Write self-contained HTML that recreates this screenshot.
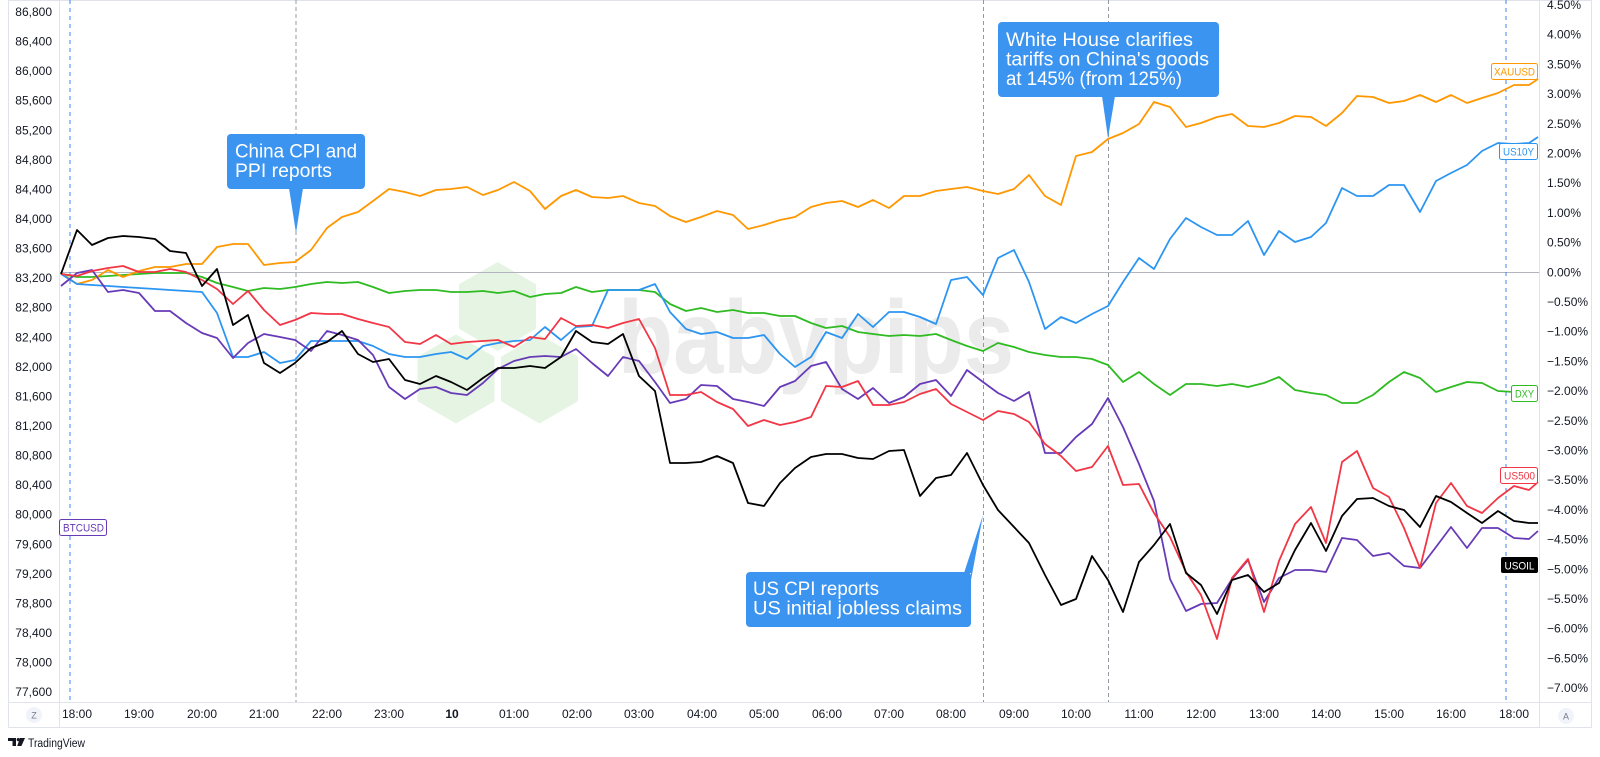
<!DOCTYPE html>
<html><head><meta charset="utf-8"><style>
html,body{margin:0;padding:0;background:#fff;}
svg{display:block;}
text{font-family:"Liberation Sans",Arial,sans-serif;}
</style></head><body>
<svg width="1600" height="757" viewBox="0 0 1600 757" xmlns="http://www.w3.org/2000/svg">
<rect x="0" y="0" width="1600" height="757" fill="#fff"/>
<!-- frame -->
<rect x="8.5" y="0.5" width="1583" height="727" fill="none" stroke="#e0e3eb" stroke-width="1"/>
<line x1="59.5" y1="0" x2="59.5" y2="728" stroke="#e0e3eb"/>
<line x1="1539.5" y1="0" x2="1539.5" y2="728" stroke="#e0e3eb"/>
<line x1="8" y1="702.5" x2="1592" y2="702.5" stroke="#e0e3eb"/>

<!-- watermark -->
<g fill="#e6f5e3">
<polygon points="497.5,262 536,284.3 536,328.8 497.5,351 459,328.8 459,284.3"/>
<polygon points="456,334.5 494.5,356.8 494.5,401.3 456,423.5 417.5,401.3 417.5,356.8"/>
<polygon points="539.5,334.5 578,356.8 578,401.3 539.5,423.5 501,401.3 501,356.8"/>
</g>
<text x="618" y="373" font-size="104" font-weight="bold" fill="#ebebeb" textLength="396" lengthAdjust="spacingAndGlyphs">babypips</text>

<!-- zero line -->
<line x1="60" y1="272.5" x2="1539" y2="272.5" stroke="#b2b5be" stroke-width="1"/>

<!-- vertical dashed lines -->
<g stroke-width="1" fill="none">
<line x1="70" y1="0" x2="70" y2="702" stroke="#3f84ee" stroke-dasharray="4,4"/>
<line x1="1506" y1="0" x2="1506" y2="702" stroke="#3f84ee" stroke-dasharray="4,4"/>
<line x1="296" y1="0" x2="296" y2="702" stroke="#9598a1" stroke-dasharray="4,3"/>
<line x1="983.5" y1="0" x2="983.5" y2="702" stroke="#9598a1" stroke-dasharray="4,3"/>
<line x1="1108.5" y1="0" x2="1108.5" y2="702" stroke="#9598a1" stroke-dasharray="4,3"/>
</g>

<defs><clipPath id="pc"><rect x="60" y="0" width="1479" height="702"/></clipPath></defs>
<g clip-path="url(#pc)" fill="none" stroke-width="1.8" stroke-linejoin="round">
<!-- DXY -->
<polyline stroke="#2fbb22" points="61,274 77,277 92,277 108,276 123,275 139,274 155,273 170,273 186,273 202,277 217,283 233,287 248,291 264,288 280,289 295,287 311,284 327,282 342,283 358,282 373,287 389,293 405,291 420,290 436,290 451,292 467,292 483,291 498,293 514,291 530,297 545,294 561,293 576,287 592,292 608,290 623,290 639,290 655,292 670,304 686,311 701,308 717,312 733,310 748,313 764,313 780,316 795,316 811,323 826,328 842,326 858,332 873,334 889,336 904,335 920,336 936,334 951,340 967,346 983,351 998,343 1014,347 1029,352 1045,355 1061,357 1076,357 1092,359 1108,365 1123,382 1139,372 1154,384 1170,395 1186,384 1201,384 1217,386 1232,384 1248,387 1264,383 1279,377 1295,390 1311,393 1326,395 1342,403 1357,403 1373,395 1389,382 1404,372 1420,378 1436,392 1451,387 1467,382 1482,383 1498,391 1514,392 1529,392"/>
<!-- XAUUSD -->
<polyline stroke="#ff9800" points="61,273 77,284 92,280 108,270 123,277 139,271 155,267 170,267 186,264 202,264 217,247 233,244 248,244 264,265 280,263 295,262 311,250 327,228 342,217 358,212 373,201 389,189 405,192 420,196 436,190 451,189 467,187 483,195 498,190 514,182 530,191 545,209 561,196 576,190 592,197 608,198 623,196 639,203 655,206 670,216 686,222 701,217 717,211 733,215 748,229 764,225 780,220 795,217 811,207 826,203 842,201 858,207 873,200 889,208 904,196 920,196 936,191 951,189 967,187 983,191 998,194 1014,189 1029,175 1045,196 1061,205 1076,156 1092,152 1108,139 1123,133 1139,124 1154,102 1170,107 1186,127 1201,123 1217,117 1232,114 1248,126 1264,127 1279,123 1295,116 1311,117 1326,126 1342,113 1357,96 1373,97 1389,103 1404,101 1420,95 1436,102 1451,95 1467,103 1482,98 1498,93 1514,85 1529,85 1538,79"/>
<!-- US10Y -->
<polyline stroke="#2c95f2" points="61,274 77,284 92,285 108,286 123,287 139,288 155,289 170,290 186,291 202,292 217,313 233,357 248,357 264,352 280,363 295,360 311,341 327,341 342,341 358,341 373,346 389,354 405,357 420,357 436,354 451,352 467,359 483,346 498,343 514,341 530,340 545,327 561,340 576,327 592,326 608,290 623,290 639,290 655,284 670,312 686,329 701,334 717,332 733,338 748,338 764,335 780,354 795,367 811,357 826,332 842,338 858,314 873,327 889,312 904,312 920,317 936,324 951,280 967,277 983,295 998,258 1014,250 1029,282 1045,329 1061,317 1076,323 1092,314 1108,306 1123,282 1139,258 1154,269 1170,239 1186,218 1201,227 1217,235 1232,235 1248,221 1264,255 1279,231 1295,242 1311,237 1326,223 1342,188 1357,196 1373,196 1389,185 1404,185 1420,212 1436,181 1451,173 1467,165 1482,151 1498,143 1514,144 1529,143 1538,137"/>
<!-- BTCUSD -->
<polyline stroke="#673ab7" points="61,286 77,273 92,270 108,292 123,290 139,293 155,311 170,311 186,323 202,333 217,338 233,358 248,343 264,334 280,337 295,340 311,351 327,331 342,335 358,340 373,355 389,387 405,399 420,389 436,387 451,393 467,395 483,383 498,369 514,361 530,357 545,356 561,357 576,349 592,363 608,376 623,357 639,361 655,382 670,403 686,399 701,385 717,386 733,399 748,402 764,406 780,387 795,381 811,366 826,362 842,389 858,399 873,388 889,403 904,397 920,384 936,380 951,396 967,370 983,382 998,393 1014,401 1029,392 1045,453 1061,453 1076,437 1092,424 1108,398 1123,427 1139,464 1154,501 1170,579 1186,611 1201,604 1217,603 1232,579 1248,560 1264,602 1279,578 1295,570 1311,570 1326,572 1342,538 1357,540 1373,556 1389,553 1404,566 1420,568 1436,547 1451,527 1467,548 1482,528 1498,528 1514,538 1529,539 1538,531"/>
<!-- US500 -->
<polyline stroke="#f23645" points="61,274 77,276 92,271 108,268 123,266 139,272 155,272 170,269 186,272 202,280 217,289 233,304 248,291 264,310 280,325 295,320 311,313 327,314 342,314 358,319 373,323 389,327 405,342 420,344 436,335 451,344 467,342 483,341 498,340 514,347 530,337 545,339 561,318 576,326 592,325 608,328 623,323 639,319 655,348 670,395 686,395 701,392 717,402 733,409 748,426 764,420 780,425 795,422 811,417 826,386 842,387 858,381 873,405 889,405 904,402 920,394 936,389 951,404 967,412 983,420 998,411 1014,414 1029,422 1045,444 1061,456 1076,471 1092,467 1108,446 1123,485 1139,484 1154,513 1170,537 1186,572 1201,595 1217,639 1232,578 1248,559 1264,612 1279,561 1295,524 1311,507 1326,543 1342,462 1357,451 1373,488 1389,497 1404,528 1420,568 1436,503 1451,483 1467,506 1482,513 1498,498 1514,486 1529,490 1538,482"/>
<!-- USOIL -->
<polyline stroke="#000000" points="61,274 77,230 92,245 108,238 123,236 139,237 155,239 170,251 186,253 202,286 217,269 233,325 248,315 264,363 280,373 295,363 311,348 327,342 342,331 358,354 373,362 389,359 405,380 420,384 436,376 451,382 467,390 483,378 498,368 514,368 530,366 545,368 561,357 576,331 592,342 608,344 623,334 639,376 655,391 670,463 686,463 701,462 717,456 733,463 748,503 764,506 780,483 795,468 811,457 826,454 842,454 858,458 873,459 889,451 904,450 920,496 936,478 951,475 967,453 983,485 998,510 1014,527 1029,543 1045,575 1061,605 1076,599 1092,556 1108,580 1123,612 1139,562 1154,545 1170,524 1186,573 1201,585 1217,614 1232,580 1248,575 1264,592 1279,583 1295,550 1311,523 1326,551 1342,516 1357,499 1373,498 1389,506 1404,510 1420,527 1436,496 1451,502 1467,513 1482,523 1498,511 1514,521 1529,523 1538,523"/>
</g>

<!-- series labels -->
<g font-size="11">
<rect x="1491.5" y="63.5" width="46" height="16" rx="2" fill="#fff" stroke="#ff9800"/>
<text x="1494" y="75.5" fill="#ff9800" textLength="41" lengthAdjust="spacingAndGlyphs">XAUUSD</text>
<rect x="1499.5" y="143.5" width="38" height="16" rx="2" fill="#fff" stroke="#2c95f2"/>
<text x="1503" y="155.5" fill="#2c95f2" textLength="31" lengthAdjust="spacingAndGlyphs">US10Y</text>
<rect x="1511.5" y="385.5" width="26" height="16" rx="2" fill="#fff" stroke="#2fbb22"/>
<text x="1515" y="397.5" fill="#2fbb22" textLength="19" lengthAdjust="spacingAndGlyphs">DXY</text>
<rect x="1500.5" y="467.5" width="37" height="16" rx="2" fill="#fff" stroke="#f23645"/>
<text x="1504" y="479.5" fill="#f23645" textLength="31" lengthAdjust="spacingAndGlyphs">US500</text>
<rect x="1501" y="557" width="37" height="16" rx="2" fill="#000"/>
<text x="1504.5" y="569.5" fill="#fff" textLength="30" lengthAdjust="spacingAndGlyphs">USOIL</text>
<rect x="59.5" y="519.5" width="47" height="16" rx="2" fill="#fff" stroke="#673ab7"/>
<text x="63" y="531.5" fill="#673ab7" textLength="41" lengthAdjust="spacingAndGlyphs">BTCUSD</text>
</g>

<!-- left axis labels -->
<g font-size="12" fill="#131722" text-anchor="end">
<text x="52" y="16">86,800</text>
<text x="52" y="45.6">86,400</text>
<text x="52" y="75.1">86,000</text>
<text x="52" y="104.7">85,600</text>
<text x="52" y="134.3">85,200</text>
<text x="52" y="163.8">84,800</text>
<text x="52" y="193.4">84,400</text>
<text x="52" y="223">84,000</text>
<text x="52" y="252.6">83,600</text>
<text x="52" y="282.1">83,200</text>
<text x="52" y="311.7">82,800</text>
<text x="52" y="341.3">82,400</text>
<text x="52" y="370.8">82,000</text>
<text x="52" y="400.4">81,600</text>
<text x="52" y="430">81,200</text>
<text x="52" y="459.6">80,800</text>
<text x="52" y="489.1">80,400</text>
<text x="52" y="518.7">80,000</text>
<text x="52" y="548.3">79,600</text>
<text x="52" y="577.8">79,200</text>
<text x="52" y="607.4">78,800</text>
<text x="52" y="637">78,400</text>
<text x="52" y="666.5">78,000</text>
<text x="52" y="696.1">77,600</text>
</g>

<!-- right axis labels -->
<g font-size="12" fill="#131722">
<text x="1547" y="9">4.50%</text>
<text x="1547" y="38.7">4.00%</text>
<text x="1547" y="68.4">3.50%</text>
<text x="1547" y="98.1">3.00%</text>
<text x="1547" y="127.8">2.50%</text>
<text x="1547" y="157.5">2.00%</text>
<text x="1547" y="187.2">1.50%</text>
<text x="1547" y="216.9">1.00%</text>
<text x="1547" y="246.6">0.50%</text>
<text x="1547" y="276.3">0.00%</text>
<text x="1547" y="306">−0.50%</text>
<text x="1547" y="335.7">−1.00%</text>
<text x="1547" y="365.4">−1.50%</text>
<text x="1547" y="395.1">−2.00%</text>
<text x="1547" y="424.8">−2.50%</text>
<text x="1547" y="454.5">−3.00%</text>
<text x="1547" y="484.2">−3.50%</text>
<text x="1547" y="513.9">−4.00%</text>
<text x="1547" y="543.6">−4.50%</text>
<text x="1547" y="573.3">−5.00%</text>
<text x="1547" y="603">−5.50%</text>
<text x="1547" y="632.7">−6.00%</text>
<text x="1547" y="662.4">−6.50%</text>
<text x="1547" y="692.1">−7.00%</text>
</g>

<!-- time axis -->
<g font-size="12" fill="#131722" text-anchor="middle">
<text x="77" y="718">18:00</text>
<text x="139" y="718">19:00</text>
<text x="202" y="718">20:00</text>
<text x="264" y="718">21:00</text>
<text x="327" y="718">22:00</text>
<text x="389" y="718">23:00</text>
<text x="452" y="718" font-weight="bold">10</text>
<text x="514" y="718">01:00</text>
<text x="577" y="718">02:00</text>
<text x="639" y="718">03:00</text>
<text x="702" y="718">04:00</text>
<text x="764" y="718">05:00</text>
<text x="827" y="718">06:00</text>
<text x="889" y="718">07:00</text>
<text x="951" y="718">08:00</text>
<text x="1014" y="718">09:00</text>
<text x="1076" y="718">10:00</text>
<text x="1139" y="718">11:00</text>
<text x="1201" y="718">12:00</text>
<text x="1264" y="718">13:00</text>
<text x="1326" y="718">14:00</text>
<text x="1389" y="718">15:00</text>
<text x="1451" y="718">16:00</text>
<text x="1514" y="718">18:00</text>
</g>
<circle cx="34" cy="715" r="8" fill="#f0f3fa"/>
<text x="34" y="718.5" font-size="9" fill="#787b86" text-anchor="middle">Z</text>
<circle cx="1566" cy="716" r="8" fill="#f0f3fa"/>
<text x="1566" y="719.5" font-size="9" fill="#787b86" text-anchor="middle">A</text>

<!-- callouts -->
<g fill="#3b94f0">
<rect x="227" y="134" width="138" height="55" rx="4"/>
<polygon points="289,188 303,188 296,233"/>
<rect x="998" y="22" width="221" height="75" rx="4"/>
<polygon points="1102,96 1115,96 1108,138"/>
<rect x="746" y="572" width="225" height="55" rx="4"/>
<polygon points="964,573 971,573 971,580 983,515"/>
</g>
<g fill="#ffffff" font-size="19">
<text x="235" y="157.5" textLength="122" lengthAdjust="spacingAndGlyphs">China CPI and</text>
<text x="235" y="177" textLength="97" lengthAdjust="spacingAndGlyphs">PPI reports</text>
<text x="1006" y="46" textLength="187" lengthAdjust="spacingAndGlyphs">White House clarifies</text>
<text x="1006" y="65.5" textLength="203" lengthAdjust="spacingAndGlyphs">tariffs on China's goods</text>
<text x="1006" y="85" textLength="176" lengthAdjust="spacingAndGlyphs">at 145% (from 125%)</text>
<text x="753" y="595" textLength="126" lengthAdjust="spacingAndGlyphs">US CPI reports</text>
<text x="753" y="614.5" textLength="209" lengthAdjust="spacingAndGlyphs">US initial jobless claims</text>
</g>

<!-- TradingView logo -->
<g fill="#131722">
<path d="M8,738 h8 v8 h-3.5 v-5 h-4.5 z"/>
<circle cx="18.3" cy="739.6" r="1.6"/>
<path d="M20,738 h5 l-3.6,8 h-4.2 z"/>
</g>
<text x="28" y="747" font-size="11.5" fill="#131722" textLength="57" lengthAdjust="spacingAndGlyphs">TradingView</text>
</svg>
</body></html>
